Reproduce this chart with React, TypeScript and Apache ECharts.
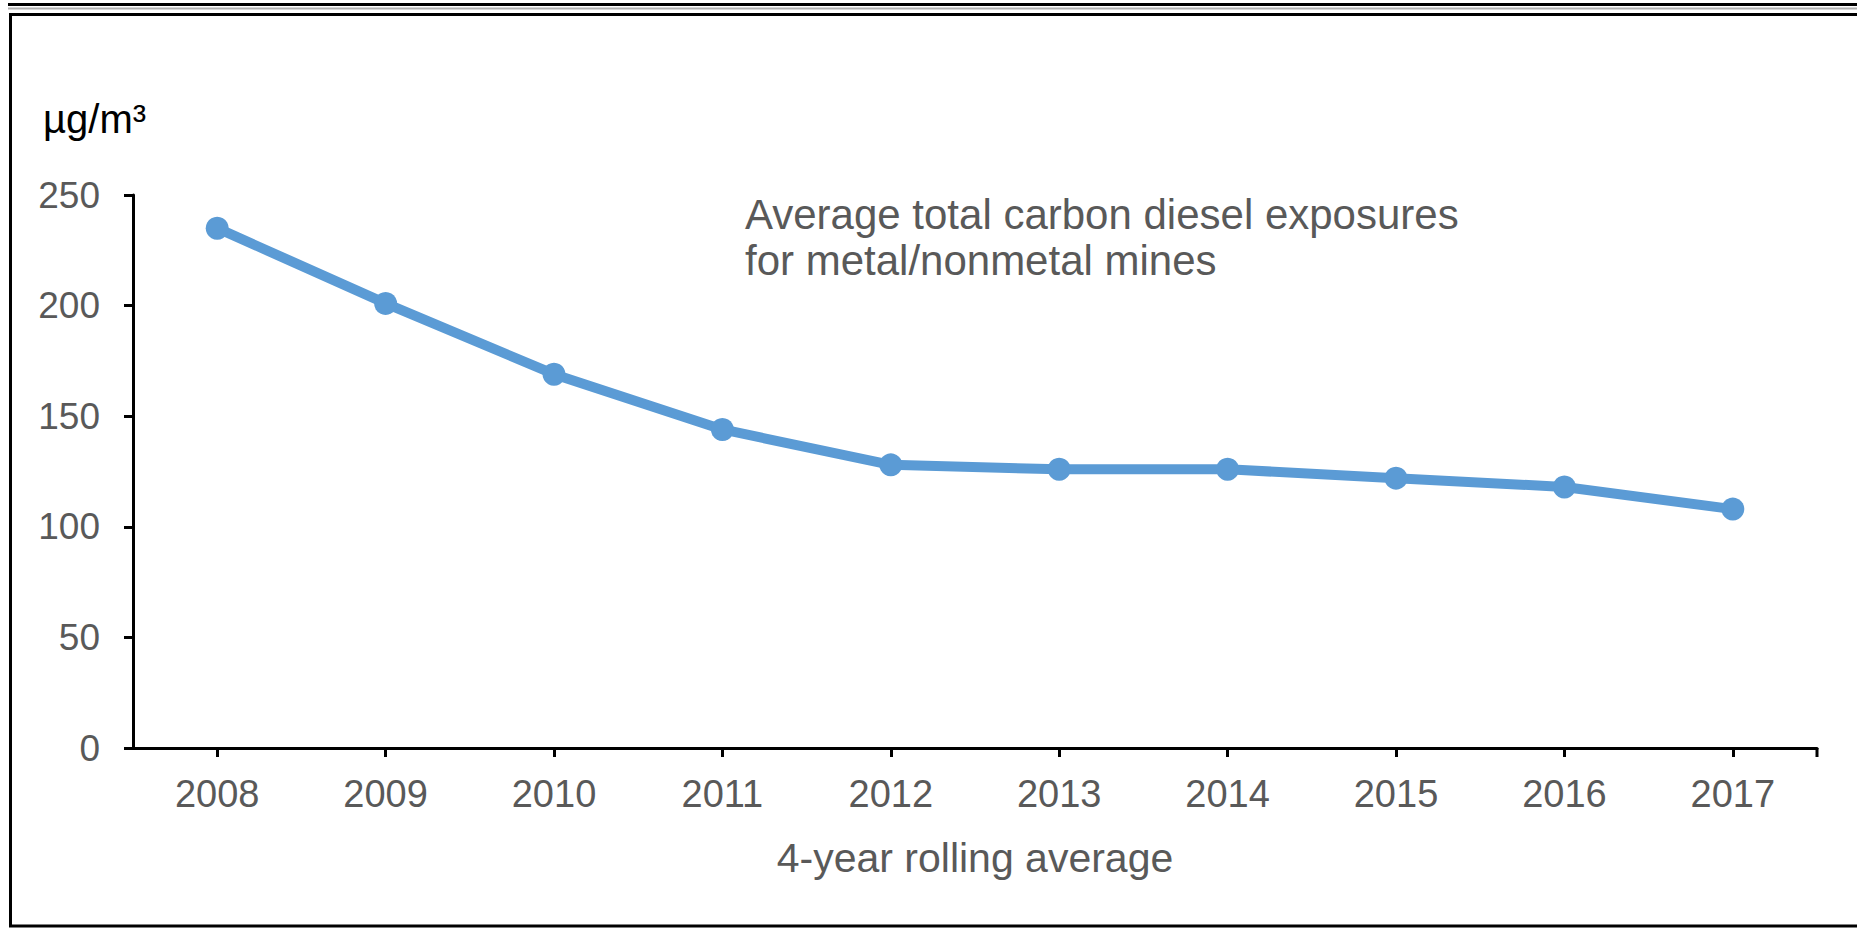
import React, { useEffect, useRef } from "react";
import * as echarts from "echarts";

const years = ["2008", "2009", "2010", "2011", "2012", "2013", "2014", "2015", "2016", "2017"];
const exposures = [235, 201, 169, 144, 128, 126, 126, 122, 118, 108];
const yTicks = { min: 0, max: 250, interval: 50 };
const unitLabel = "µg/m³";
const noteLines = ["Average total carbon diesel exposures", "for metal/nonmetal mines"];
const xAxisTitle = "4-year rolling average";

const W = 1857;
const H = 930;
const FONT = "'Liberation Sans', Arial, sans-serif";
const GRAY = "#595959";

export default function App() {
  const ref = useRef<HTMLDivElement>(null);

  useEffect(() => {
    if (!ref.current) return;
    const chart = echarts.init(ref.current, null, { renderer: "svg" });
    chart.setOption({
      animation: false,
      backgroundColor: "#ffffff",
      grid: { left: 133, right: 40, top: 195, bottom: 182, containLabel: false },
      xAxis: {
        type: "category",
        data: years,
        boundaryGap: true,
        name: xAxisTitle,
        nameLocation: "middle",
        nameGap: 89,
        nameTextStyle: { color: GRAY, fontSize: 41, fontFamily: FONT },
        axisLine: { show: true, lineStyle: { color: "#000", width: 3 } },
        axisTick: { show: true, alignWithLabel: true, length: 9, lineStyle: { color: "#000", width: 3 } },
        axisLabel: { color: GRAY, fontSize: 38, fontFamily: FONT, margin: 27 },
        splitLine: { show: false },
      },
      yAxis: {
        type: "value",
        min: yTicks.min,
        max: yTicks.max,
        interval: yTicks.interval,
        axisLine: { show: true, lineStyle: { color: "#000", width: 3 } },
        axisTick: { show: true, length: 9, lineStyle: { color: "#000", width: 3 } },
        axisLabel: { color: GRAY, fontSize: 37, fontFamily: FONT, margin: 33 },
        splitLine: { show: false },
      },
      series: [
        {
          type: "line",
          data: exposures,
          symbol: "circle",
          symbolSize: 23,
          lineStyle: { color: "#5B9BD5", width: 10 },
          itemStyle: { color: "#5B9BD5" },
          z: 3,
        },
      ],
      graphic: [
        { type: "rect", shape: { x: 8, y: 3, width: W, height: 3 }, style: { fill: "#000" }, silent: true },
        { type: "rect", shape: { x: 8, y: 7.5, width: W, height: 2 }, style: { fill: "#b0b0b0" }, silent: true },
        {
          type: "rect",
          shape: { x: 10.5, y: 14.5, width: W + 20, height: 911.5 },
          style: { fill: "none", stroke: "#000", lineWidth: 3 },
          silent: true,
        },
        { type: "line", shape: { x1: 1817, y1: 748, x2: 1817, y2: 757 }, style: { stroke: "#000", lineWidth: 3 }, silent: true },
        {
          type: "text",
          x: 43,
          y: 119,
          style: { text: unitLabel, fill: "#000", fontSize: 40, fontFamily: FONT, textVerticalAlign: "middle" },
          silent: true,
        },
        {
          type: "text",
          x: 745,
          y: 191,
          style: {
            text: noteLines.join("\n"),
            fill: GRAY,
            fontSize: 42,
            lineHeight: 46,
            fontFamily: FONT,
            textVerticalAlign: "top",
          },
          silent: true,
        },
      ],
    });
    return () => chart.dispose();
  }, []);

  return <div ref={ref} style={{ position: "fixed", left: 0, top: 0, width: W, height: H }} />;
}
